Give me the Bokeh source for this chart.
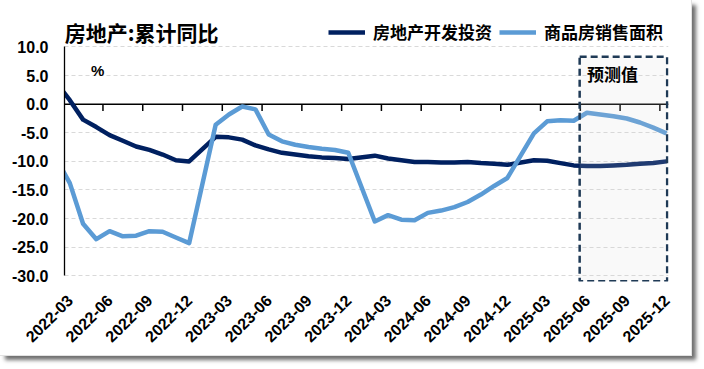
import math
from bokeh.plotting import figure
from bokeh.models import (FixedTicker, NumeralTickFormatter, Span, BoxAnnotation,
                          Label, Legend, LegendItem)
from bokeh.embed import file_html
from bokeh.resources import INLINE

# ---------------- data ----------------
months = [
    "2022-02", "2022-03", "2022-04", "2022-05", "2022-06", "2022-07", "2022-08", "2022-09", "2022-10", "2022-11", "2022-12",
    "2023-02", "2023-03", "2023-04", "2023-05", "2023-06", "2023-07", "2023-08", "2023-09", "2023-10", "2023-11", "2023-12",
    "2024-02", "2024-03", "2024-04", "2024-05", "2024-06", "2024-07", "2024-08", "2024-09", "2024-10", "2024-11", "2024-12",
    "2025-02", "2025-03", "2025-04", "2025-05", "2025-06", "2025-07", "2025-08", "2025-09", "2025-10", "2025-11", "2025-12",
]
# 房地产开发投资 累计同比 (%)
invest = [
    3.7, 0.7, -2.7, -4.0, -5.4, -6.4, -7.4, -8.0, -8.8, -9.8, -10.0,
    -5.7, -5.8, -6.2, -7.2, -7.9, -8.5, -8.8, -9.1, -9.3, -9.4, -9.6,
    -9.0, -9.5, -9.8, -10.1, -10.1, -10.2, -10.2, -10.1, -10.3, -10.4, -10.6,
    -9.8, -9.9, -10.3, -10.7, -10.8, -10.8, -10.7, -10.6, -10.4, -10.3, -10.0,
]
# 商品房销售面积 累计同比 (%)
sales = [
    -9.6, -13.8, -20.9, -23.6, -22.2, -23.1, -23.0, -22.2, -22.3, -23.3, -24.3,
    -3.6, -1.8, -0.4, -0.9, -5.3, -6.5, -7.1, -7.5, -7.8, -8.0, -8.5,
    -20.5, -19.4, -20.2, -20.3, -19.0, -18.6, -18.0, -17.1, -15.8, -14.3, -12.9,
    -5.1, -3.0, -2.8, -2.9, -1.5, -1.8, -2.1, -2.5, -3.2, -4.1, -5.1,
]
x_labels = ["2022-03", "2022-06", "2022-09", "2022-12", "2023-03", "2023-06", "2023-09", "2023-12",
            "2024-03", "2024-06", "2024-09", "2024-12", "2025-03", "2025-06", "2025-09", "2025-12"]
y_ticks = [-30, -25, -20, -15, -10, -5, 0, 5, 10]
forecast_start = "2025-06"
series_names = ["房地产开发投资", "商品房销售面积"]
title_text = "房地产:累计同比"
unit_text = "%"
forecast_text = "预测值"


def mpos(s):
    y, m = s.split("-")
    return (int(y) - 2022) * 12 + int(m) - 2


xs = [mpos(m) for m in months]
label_pos = [mpos(m) for m in x_labels]
tick_pos = [p_ - 0.5 for p_ in label_pos[1:]]

DARK = "#002060"
LIGHT = "#5B9BD5"
FONT = "Liberation Sans"
CJK = "Noto Sans CJK SC"

p = figure(width=691, height=355, x_range=(0.6, 46.15), y_range=(-31, 16.38),
           output_backend="svg", toolbar_location=None,
           min_border_left=64, min_border_right=23, min_border_top=10, min_border_bottom=74)
p.outline_line_color = None
p.background_fill_color = "white"
p.border_fill_color = "white"
p.styles = {"box-shadow": "0 0 0 1px #e2e2e2, 5px 5px 4px #6f6f6f"}

# grid
p.xgrid.visible = False
p.ygrid.ticker = FixedTicker(ticks=y_ticks)
p.ygrid.grid_line_color = "#d9d9d9"
p.ygrid.grid_line_dash = "4 3"
p.ygrid.grid_line_width = 1

# zero axis line with tick marks
zero = Span(location=0, dimension="width", line_color="black", line_width=1.5, level="underlay")
p.add_layout(zero)
tick_len = 1.2
p.segment(x0=tick_pos, y0=[0] * len(tick_pos), x1=tick_pos, y1=[-tick_len] * len(tick_pos),
          line_color="black", line_width=1.5)

r1 = p.line(xs, invest, line_color=DARK, line_width=4.5, line_join="round")
r2 = p.line(xs, sales, line_color=LIGHT, line_width=4.5, line_join="round")

# y axis
ya = p.yaxis[0]
ya.ticker = FixedTicker(ticks=y_ticks)
ya.formatter = NumeralTickFormatter(format="0.0")
ya.bounds = (-30, 10)
ya.axis_line_color = "black"
ya.axis_line_width = 1.3
ya.major_tick_line_color = None
ya.minor_tick_line_color = None
ya.major_label_text_font = FONT
ya.major_label_text_font_style = "bold"
ya.major_label_text_font_size = "16px"
ya.major_label_text_color = "black"
ya.major_label_standoff = 10

# x axis (labels only)
xa = p.xaxis[0]
xa.ticker = FixedTicker(ticks=label_pos)
xa.major_label_overrides = {pos: lab for pos, lab in zip(label_pos, x_labels)}
xa.major_label_orientation = math.pi / 4
xa.axis_line_color = None
xa.major_tick_line_color = None
xa.minor_tick_line_color = None
xa.major_label_text_font = FONT
xa.major_label_text_font_style = "bold"
xa.major_label_text_font_size = "16px"
xa.major_label_text_color = "black"
xa.major_label_standoff = 10

# forecast box
fs = mpos(forecast_start) - 0.55
box = BoxAnnotation(left=fs, right=46.05, bottom=-30.95, top=8.3,
                    fill_color="#d9d9d9", fill_alpha=0.15,
                    line_color="#1f3a56", line_alpha=1.0, line_width=2.5, line_dash="7 4")
p.add_layout(box)
p.add_layout(Label(x=fs + 0.55, y=5.4, text=forecast_text, text_font=CJK, text_font_style="bold",
                   text_font_size="17px", text_color="black", text_align="left", text_baseline="middle"))

# unit label
p.add_layout(Label(x=3.1, y=5.9, text=unit_text, text_font=FONT, text_font_style="bold",
                   text_font_size="15px", text_color="black", text_align="center", text_baseline="middle"))

# title
p.add_layout(Label(x=0.62, y=12.7, text=title_text, text_font=CJK, text_font_style="bold",
                   text_font_size="21px", text_color="black", text_align="left", text_baseline="middle"))

legend = Legend(items=[LegendItem(label=series_names[0], renderers=[r1]),
                       LegendItem(label=series_names[1], renderers=[r2])],
                orientation="horizontal", location=(264, 237),
                label_text_font=CJK, label_text_font_style="bold", label_text_font_size="17px",
                label_text_color="black",
                glyph_width=37, glyph_height=20, label_standoff=8, spacing=7,
                padding=0, margin=0, border_line_color=None, background_fill_alpha=0)
p.add_layout(legend)

open("out.html", "w").write(file_html(p, INLINE))
